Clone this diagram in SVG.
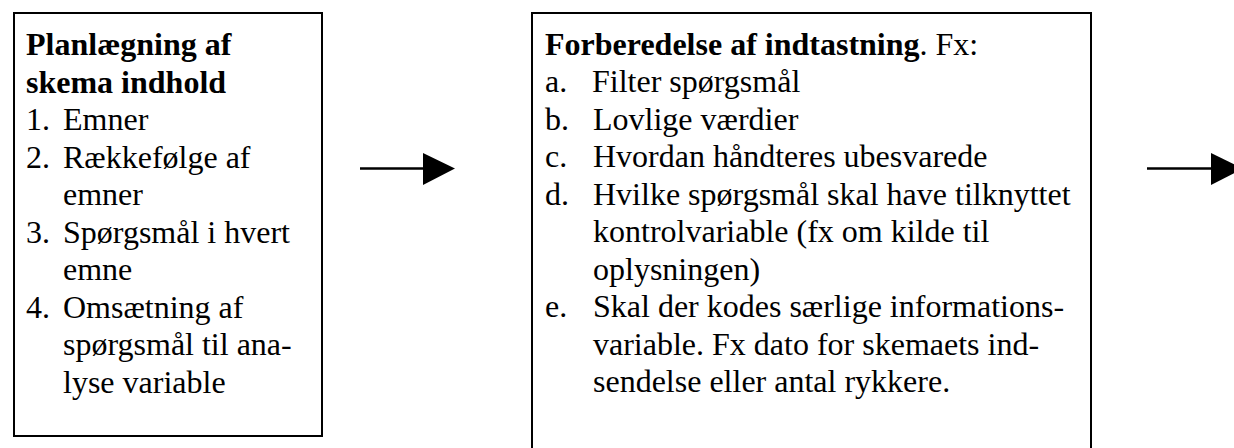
<svg xmlns="http://www.w3.org/2000/svg" width="1234" height="448" viewBox="0 0 1234 448">
<style>
.box{fill:#fff;stroke:#000;stroke-width:2}
text{font-family:'Liberation Serif','Tinos','Times New Roman','DejaVu Serif',serif;font-size:32px;fill:#000}
.b{font-weight:bold}
.conn line{stroke:#000;stroke-width:2.5}
.conn polygon{fill:#000}
</style>
<rect width="1234" height="448" fill="#fff"/>
<g id="node-planlaegning" font-family="Liberation Serif, Tinos, DejaVu Serif, serif">
<rect class="box" x="14" y="13" width="308" height="423"/>
<text class="b" x="26" y="55">Planlægning af</text>
<text class="b" x="26" y="92.5">skema indhold</text>
<text x="26" y="130">1.</text><text x="63" y="130">Emner</text>
<text x="26" y="167.5">2.</text><text x="63" y="167.5">Rækkefølge af</text>
<text x="63" y="205">emner</text>
<text x="26" y="242.5">3.</text><text x="63" y="242.5">Spørgsmål i hvert</text>
<text x="63" y="280">emne</text>
<text x="26" y="317.5">4.</text><text x="63" y="317.5">Omsætning af</text>
<text x="63" y="355">spørgsmål til ana-</text>
<text x="63" y="392.5">lyse variable</text>
</g>
<g id="node-forberedelse">
<rect class="box" x="532" y="13" width="559" height="445"/>
<text x="545" y="54.5"><tspan class="b">Forberedelse af indtastning</tspan>. Fx:</text>
<text x="545" y="92">a.</text><text x="592" y="92">Filter spørgsmål</text>
<text x="545" y="129.5">b.</text><text x="593" y="129.5">Lovlige værdier</text>
<text x="545" y="167">c.</text><text x="593" y="167">Hvordan håndteres ubesvarede</text>
<text x="545" y="204.5">d.</text><text x="593" y="204.5">Hvilke spørgsmål skal have tilknyttet</text>
<text x="593" y="242">kontrolvariable (fx om kilde til</text>
<text x="593" y="279.5">oplysningen)</text>
<text x="545" y="317">e.</text><text x="593" y="317">Skal der kodes særlige informations-</text>
<text x="593" y="354.5">variable. Fx dato for skemaets ind-</text>
<text x="593" y="392">sendelse eller antal rykkere.</text>
</g>
<g id="connectors" class="conn">
<line x1="360" y1="168.5" x2="425" y2="168.5"/>
<polygon points="423,153 455,168.5 423,185"/>
<line x1="1147" y1="168.5" x2="1213" y2="168.5"/>
<polygon points="1211,153 1243,168.5 1211,185"/>
</g>
</svg>
